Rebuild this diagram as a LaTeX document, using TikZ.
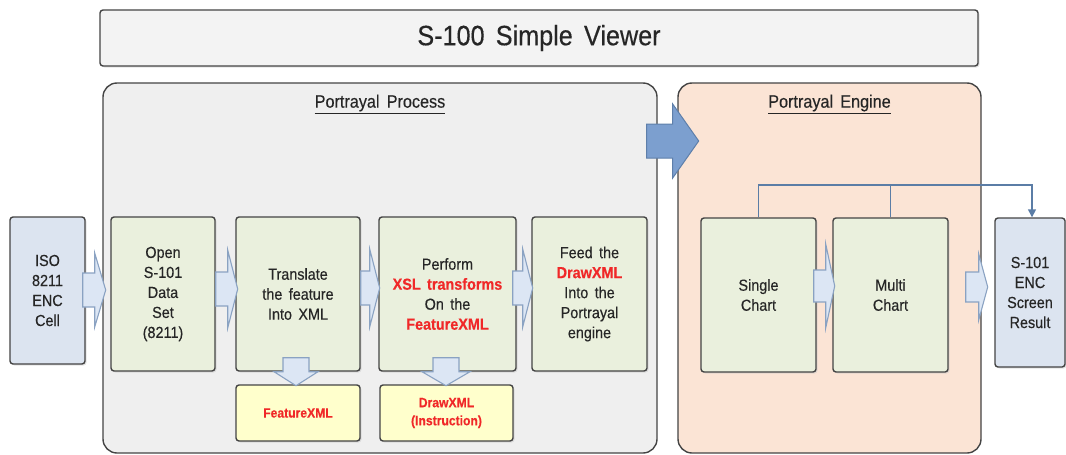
\documentclass[tikz,border=0pt]{standalone}
\usepackage{fontspec}
\setmainfont{Liberation Sans}[FakeStretch=0.9,WordSpace=1.6,FakeBold=0.35]
\usetikzlibrary{arrows.meta,shadows,calc}
\definecolor{boxline}{HTML}{444444}
\definecolor{titlefill}{HTML}{F3F3F3}
\definecolor{procfill}{HTML}{EFEFEF}
\definecolor{engfill}{HTML}{FBE4D5}
\definecolor{greenfill}{HTML}{EAF0DD}
\definecolor{bluefill}{HTML}{DCE4F0}
\definecolor{yellowfill}{HTML}{FFFFCC}
\definecolor{redtxt}{HTML}{F02828}
\definecolor{txt}{HTML}{262626}
\definecolor{arrfill}{HTML}{DCE6F4}
\definecolor{arrline}{HTML}{8AA2C2}
\definecolor{bigfill}{HTML}{7C9FCF}
\definecolor{bigline}{HTML}{5E7FAA}
\definecolor{connc}{HTML}{5B7DA6}
\newcommand\rd[1]{\textcolor{redtxt}{\bfseries #1}}
\newcommand\harr[5]{\draw[barrow,shift={#1}] (0,-#3) -- (#2-#5,-#3) -- (#2-#5,-#4) -- (#2,0) -- (#2-#5,#4) -- (#2-#5,#3) -- (0,#3) -- cycle;}
\newcommand\varr[5]{\draw[barrow,shift={#1}] (-#3,0) -- (-#3,#2-#5) -- (-#4,#2-#5) -- (0,#2) -- (#4,#2-#5) -- (#3,#2-#5) -- (#3,0) -- cycle;}
\tikzset{
  box/.style={draw=boxline, line width=1.4pt, rounded corners=3pt, align=center,
    text=txt, inner sep=0pt, font=\fontsize{16}{20}\selectfont,
    drop shadow={shadow xshift=1.5pt, shadow yshift=-1.5pt, fill=black!22}},
  gbox/.style={box, fill=greenfill},
  bbox/.style={box, fill=bluefill},
  ybox/.style={box, fill=yellowfill, font=\fontsize{13.5}{18}\selectfont\bfseries, text=redtxt},
  panel/.style={draw=boxline, line width=1.4pt, rounded corners=14pt, inner sep=0pt},
  barrow/.style={fill=arrfill, draw=arrline, line width=1.1pt, line join=miter},
  bigarrow/.style={fill=bigfill, draw=bigline, line width=1pt},
  conn/.style={draw=connc, line width=1.4pt},
  ptitle/.style={text=txt, font=\fontsize{18}{20}\selectfont, inner sep=0pt},
}
\begin{document}
\begin{tikzpicture}[x=1pt,y=-1pt]
\useasboundingbox (0,0) rectangle (1066,455);
% title
\node[box, fill=titlefill, minimum width=878, minimum height=56, font=\fontsize{28}{30}\selectfont] (title) at (539,38) {S-100 Simple Viewer};
% panels
\node[panel, fill=procfill, minimum width=554, minimum height=370] (proc) at (380,268) {};
\node[panel, fill=engfill, minimum width=303, minimum height=370] (eng) at (829.5,268) {};
\node[ptitle] (proct) at (380,104) {\underline{Portrayal Process}};
\node[ptitle] (engt) at (829.5,104) {\underline{Portrayal Engine}};
% boxes
\node[bbox, minimum width=75, minimum height=147] (iso) at (47.5,290.5) {ISO\\8211\\ENC\\Cell};
\node[gbox, minimum width=104, minimum height=154] (open) at (163,294) {Open\\S-101\\Data\\Set\\(8211)};
\node[gbox, minimum width=124, minimum height=154] (trans) at (298,294) {Translate\\the feature\\Into XML};
\node[gbox, minimum width=137, minimum height=154] (perf) at (447.5,294) {Perform\\\rd{XSL transforms}\\On the\\\rd{FeatureXML}};
\node[gbox, minimum width=115, minimum height=154] (feed) at (589.5,294) {Feed the\\\rd{DrawXML}\\Into the\\Portrayal\\engine};
\node[ybox, minimum width=124, minimum height=56] (fxml) at (298,413) {FeatureXML};
\node[ybox, minimum width=133, minimum height=56] (dxml) at (446.5,413) {DrawXML\\(Instruction)};
\node[gbox, minimum width=115, minimum height=154] (single) at (758.5,295) {Single\\Chart};
\node[gbox, minimum width=115, minimum height=154] (multi) at (890.5,295) {Multi\\Chart};
\node[bbox, minimum width=70, minimum height=149] (s101) at (1030,292.5) {S-101\\ENC\\Screen\\Result};
% block arrows
\harr{($(iso.east)+(-3,-0.5)$)}{23}{17}{37}{11}
\harr{($(open.east)+(0,-5)$)}{22}{17}{39}{10}
\harr{($(trans.east)+(0,-6)$)}{19}{17}{39}{10}
\harr{($(perf.east)+(-4,-6)$)}{20}{17}{39}{10}
\harr{($(single.east)+(-3,-9)$)}{21}{16}{42}{9}
\harr{($(multi.east)+(17,-8)$)}{22}{15}{33}{9}
\varr{($(trans.south)+(-2,-14)$)}{28}{13}{22}{14}
\varr{($(perf.south)+(-1.5,-14)$)}{28}{13}{24}{14}
\draw[bigarrow, shift={($(proc.east)+(-11,-127)$)}] (0,-17) -- (26,-17) -- (26,-37) -- (52,0) -- (26,37) -- (26,17) -- (0,17) -- cycle;
% connectors
\coordinate (top) at (758.5,185);
\draw[conn] (multi.north) -- (multi.north |- top);
\draw[conn, -{Triangle[length=8pt,width=8pt]}] (single.north) -- (single.north |- top) -| ($(s101.north)+(2,0)$);
\end{tikzpicture}
\end{document}
